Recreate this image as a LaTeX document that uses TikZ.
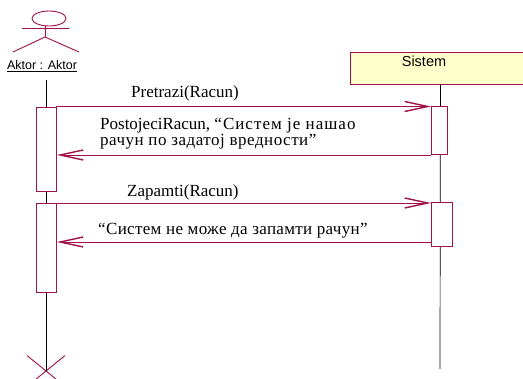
\documentclass[tikz,border=0pt]{standalone}
\usepackage{fontspec}
\setmainfont{Liberation Serif}
\setsansfont{Liberation Sans}
\newfontfamily\msgfont{Liberation Serif}
\newfontfamily\msgfontA[LetterSpace=6.0]{Liberation Serif}
\newfontfamily\msgfontB[LetterSpace=3.0]{Liberation Serif}
\newfontfamily\msgfontC[LetterSpace=2.0]{Liberation Serif}
\usetikzlibrary{arrows.meta,shapes.misc,calc}
\definecolor{umlred}{HTML}{A0104A}
\definecolor{umlyellow}{HTML}{FFFFCC}
\tikzset{
  umlline/.style={draw=umlred,line width=0.9pt},
  lifeline/.style={draw=black,line width=0.7pt},
  actbox/.style={umlline,fill=white,rectangle,inner sep=0pt,anchor=north west},
  msg/.style={umlline,-{Straight Barb[length=23pt,width=10pt,line width=1.4pt]}},
  msgtext/.style={font=\msgfont\fontsize{17}{16.5}\selectfont,anchor=base west,inner sep=0pt,align=left},
}
\begin{document}
\begin{tikzpicture}[x=1pt,y=-1pt]
\clip (0,0) rectangle (523,379);
\fill[white] (0,0) rectangle (523,379);
% actor figure
\draw[umlline] (49,18.5) ellipse [x radius=17, y radius=7.5];
\draw[umlline] (22,28) -- (69,28);
\draw[umlline] (45,26) -- (45,37);
\draw[umlline] (13,52) -- (45,37) -- (79,52);
\node[font=\sffamily\fontsize{12.5}{14}\selectfont,anchor=base,inner sep=0pt] (aktor) at (42,70) {\underline{Aktor : Aktor}};
% system header
\node[draw=umlred,line width=0.9pt,fill=umlyellow,rectangle,inner sep=0pt,minimum width=180pt,minimum height=32pt,anchor=north west] (sysbox) at (350,52) {};
\node[font=\sffamily\fontsize{14.5}{16}\selectfont,anchor=base,inner sep=0pt] (sistem) at (424,67) {Sistem};
% lifelines
\coordinate (al0) at (46,80);
\node[cross out,draw=umlred,line width=0.9pt,inner sep=0pt,minimum width=37pt,minimum height=30pt] (xmark) at (46,371) {};
\draw[lifeline] (al0) -- (xmark.center);
\coordinate (send) at (440,369);
\draw[lifeline] (sysbox.south) -- (send);
% activations
\node[actbox,minimum width=20pt,minimum height=84pt] (a1) at (36,107) {};
\node[actbox,minimum width=20pt,minimum height=89pt] (a2) at (36,203) {};
\node[actbox,minimum width=16pt,minimum height=48pt] (s1) at (431,106) {};
\node[actbox,minimum width=21pt,minimum height=44pt] (s2) at (431,202) {};
% messages
\coordinate (m1) at (56,106.5);
\draw[msg] (m1) -- (m1 -| s1.west);
\coordinate (r1) at (431,155);
\draw[msg] (r1) -- (r1 -| a1.east);
\coordinate (m2) at (56,203);
\draw[msg] (m2) -- (m2 -| s2.west);
\coordinate (r2) at (431,242);
\draw[msg] (r2) -- (r2 -| a2.east);
% labels
\node[msgtext] (t1) at (131,98) {Pretrazi(Racun)};
\node[msgtext] (t2) at (100,146) {PostojeciRacun, {\msgfontA“Систем је нашао}\\{\msgfontB рачун по задатој вредности”}};
\node[msgtext] (t3) at (127,197) {Zapamti(Racun)};
\node[msgtext] (t4) at (98,235) {\msgfontC“Систем не може да запамти рачун”};
\end{tikzpicture}
\end{document}
